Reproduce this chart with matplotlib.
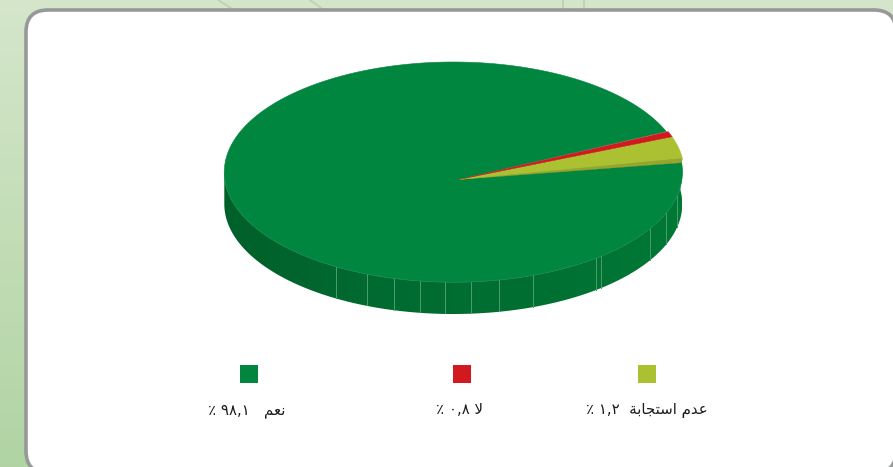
import numpy as np
import matplotlib
matplotlib.use("Agg")
import matplotlib.pyplot as plt
from matplotlib.patches import FancyBboxPatch, Polygon
from matplotlib.colors import LinearSegmentedColormap

# ---- data ----
categories = ["عدم استجابة", "لا", "نعم"]
value_labels = ["١,٢", "٠,٨", "٩٨,١"]          # the numbers printed in the legend
drawn_shares = [3.2, 0.8, 96.0]                 # slice sizes as actually drawn (percent)
colors = ["#abc132", "#d2191f", "#00863f"]
lip_colors = ["#98a42f", "#a9171c", "#00863f"]

# ---- layout (pixel coordinates) ----
W, H = 893, 467
CX, CY, RX, RY = 453.3, 172.0, 229.0, 110.0
APEX = (459.0, 179.5)
DEPTH = 32.0
START_DEG = 7.2
SLICE_PUSH = 2.0
SEAMS = [336, 367, 394, 420, 445, 471, 499, 533, 595.5, 601, 649.5, 666, 677]
LEGEND_X = [647, 462, 249]
LABEL_X = [647, 459, 246.5]
GAPS = ["  ", " ", "   "]

FORMS = {  # isolated, final, initial, medial
    "ن": (0xFEE5, 0xFEE6, 0xFEE7, 0xFEE8), "ع": (0xFEC9, 0xFECA, 0xFECB, 0xFECC),
    "م": (0xFEE1, 0xFEE2, 0xFEE3, 0xFEE4), "س": (0xFEB1, 0xFEB2, 0xFEB3, 0xFEB4),
    "ت": (0xFE95, 0xFE96, 0xFE97, 0xFE98), "ج": (0xFE9D, 0xFE9E, 0xFE9F, 0xFEA0),
    "ب": (0xFE8F, 0xFE90, 0xFE91, 0xFE92), "ل": (0xFEDD, 0xFEDE, 0xFEDF, 0xFEE0),
    "ا": (0xFE8D, 0xFE8E, None, None), "د": (0xFEA9, 0xFEAA, None, None),
    "ة": (0xFE93, 0xFE94, None, None),
}


def shape(word):
    """Presentation forms in visual order: matplotlib does no Arabic shaping."""
    word = word.replace("لا", "\uFEFB")
    out = []
    for i, ch in enumerate(word):
        if ch not in FORMS:
            out.append(ch)
            continue
        prev = word[i - 1] if i else None
        nxt = word[i + 1] if i + 1 < len(word) else None
        joins_prev = prev in FORMS and FORMS[prev][2] is not None
        joins_next = FORMS[ch][2] is not None and (nxt in FORMS or nxt == "\uFEFB")
        idx = {(0, 0): 0, (1, 0): 1, (0, 1): 2, (1, 1): 3}[(int(joins_prev), int(joins_next))]
        out.append(chr(FORMS[ch][idx]))
    return "".join(reversed(out))


def rim(t0, t1, n=300):
    t = np.radians(np.linspace(t0, t1, n))
    return CX + RX * np.cos(t), CY - RY * np.sin(t)


fig = plt.figure(figsize=(W / 100, H / 100), dpi=100)
ax = fig.add_axes([0, 0, 1, 1])
ax.set_axis_off()

# page background
bg = LinearSegmentedColormap.from_list("bg", ["#d5e6cb", "#b1d4a3"])
ax.imshow(np.linspace(0, 1, 256)[:, None], cmap=bg, extent=[0, W, H, 0], aspect="auto", zorder=0)
for xs, ys in [((218, 234), (0, 10)), ((310, 324), (0, 10)), ((563, 563), (0, 10)), ((584, 584), (0, 10))]:
    ax.plot(xs, ys, color="#bdd0b6", lw=1.2, zorder=1)

# rounded panel
ax.add_patch(FancyBboxPatch((26, 10), 870, 463, boxstyle="round,pad=0,rounding_size=22",
                            fc="white", ec="#97989a", lw=2.6, zorder=2))

# side of the pie
x0, y0 = rim(180, 367.2)
band = np.column_stack([np.r_[x0, x0[::-1]], np.r_[y0, y0[::-1] + DEPTH]])
side_cmap = LinearSegmentedColormap.from_list("side", ["#00602a", "#006b30", "#006f32", "#007936"])
im = ax.imshow(np.linspace(0, 1, 256)[None, :], cmap=side_cmap,
               extent=[CX - RX, CX + RX, CY + RY + DEPTH, CY], aspect="auto", zorder=3)
clip = Polygon(band, closed=True, transform=ax.transData, fc="none", ec="none")
ax.add_patch(clip)
im.set_clip_path(clip)

# seams in the side wall
for sx in SEAMS:
    u = (sx - CX) / RX
    sy = CY + RY * np.sqrt(1 - u * u)
    ax.plot([sx, sx], [sy, sy + DEPTH * 0.985], color="#4d9d6c", lw=0.7, zorder=4)
ax.plot(x0, y0, color="#55a878", lw=0.6, zorder=4)

# slices of the top face, from the shares
angle = START_DEG
order = []
for share, col, lip in zip(drawn_shares, colors, lip_colors):
    sweep = share * 3.6
    order.append((angle, angle + sweep, col, lip))
    angle += sweep

# green first, the two small slices on top with a thin darker lip
a0, a1, col, _ = order[2]
gx, gy = rim(a0, a1, 900)
ax.add_patch(Polygon(np.column_stack([np.r_[APEX[0], gx], np.r_[APEX[1], gy]]), closed=True,
                     fc=col, ec=col, lw=0.4, zorder=5))
for a0, a1, col, lip in order[:2]:
    sx, sy = rim(a0, a1, 40)
    sx = sx + SLICE_PUSH
    dp = 4.5 if col == colors[0] else 2.0
    ax.add_patch(Polygon([APEX, (sx[0] - 1, sy[0] + dp), (sx[0], sy[0])], closed=True,
                         fc=lip, ec=lip, lw=0.2, zorder=6))
    ax.add_patch(Polygon(np.column_stack([np.r_[APEX[0], sx], np.r_[APEX[1], sy]]), closed=True,
                         fc=col, ec=col, lw=0.2, zorder=7))

# legend
for lx, tx, col, cat, val, gap in zip(LEGEND_X, LABEL_X, colors, categories, value_labels, GAPS):
    ax.scatter([lx], [374], marker="s", s=(18 * 0.72) ** 2, color=col, linewidths=0, zorder=8)
    ax.text(tx, 410, "٪ " + val + gap + shape(cat), ha="center", va="center",
            fontsize=10.8, color="#1c1c1c", family="DejaVu Sans", zorder=8)

ax.set_xlim(0, W)
ax.set_ylim(H, 0)
fig.savefig("out.png", dpi=100)
